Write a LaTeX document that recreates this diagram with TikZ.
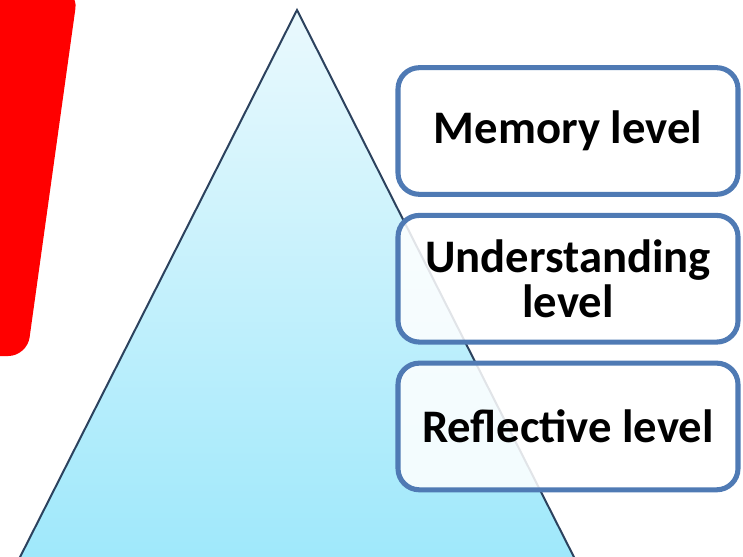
\documentclass[tikz,border=0pt]{standalone}
\usepackage{fontspec}
\setmainfont{Carlito}
\usetikzlibrary{positioning}
\definecolor{boxblue}{RGB}{79,122,180}
\definecolor{edgeblue}{RGB}{44,66,94}
\definecolor{skytop}{RGB}{234,249,253}
\definecolor{skybot}{RGB}{158,232,251}

\begin{document}
\begin{tikzpicture}[x=0.75pt,y=-0.75pt,
    levelbox/.style={draw=boxblue,line width=3.8pt,rounded corners=16pt,
        fill=white,fill opacity=0.86,text opacity=1,
        minimum width=255pt,minimum height=95pt,align=center,
        font=\fontsize{35}{34}\selectfont\bfseries}]
\useasboundingbox (0,0) rectangle (743,557);
\clip (0,0) rectangle (743,557);
% red band
\fill[red,rounded corners=14pt] (-30,-10) -- (78,-10) -- (27,356) -- (-30,356) -- cycle;
% pyramid
\coordinate (apex) at (297,10);
\coordinate (left) at (15,567);
\coordinate (right) at (579,567);
\shadedraw[top color=skytop,bottom color=skybot,draw=edgeblue,line width=1.5pt]
    (apex) -- (left) -- (right) -- cycle;
% levels
\node[levelbox] (memory) at (568,131) {Memory level};
\node[levelbox,below=12pt of memory] (understanding) {Understanding\\level};
\node[levelbox,below=12pt of understanding] (reflective) {Reflective level};
\end{tikzpicture}
\end{document}
